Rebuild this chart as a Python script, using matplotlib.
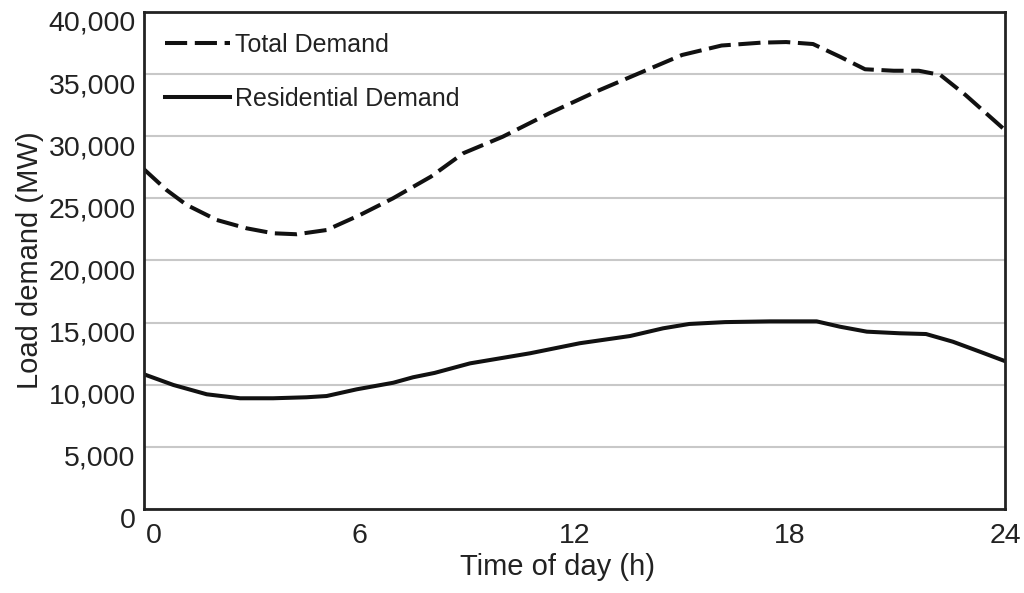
import numpy as np
import matplotlib
matplotlib.use("Agg")
import matplotlib.pyplot as plt
import matplotlib.transforms as mtransforms

# hours and load values (MW)
hours_total = [0, 0.63, 1.19, 2.03, 2.86, 3.6, 4.26, 5.09, 6.02, 6.94, 8.0, 8.9, 10.0,
               11.3, 12.6, 13.9, 15.0, 16.1, 17.2, 17.9, 18.65, 19.4, 20.1, 20.9,
               21.6, 22.2, 22.9, 24.0]
total_demand = [27340, 25670, 24470, 23260, 22590, 22190, 22110, 22450, 23660, 25000,
                26750, 28630, 29960, 31850, 33590, 35190, 36540, 37300, 37530, 37580,
                37420, 36400, 35390, 35270, 35270, 34930, 33320, 30500]

hours_res = [0, 0.82, 1.75, 2.68, 3.6, 4.53, 5.09, 5.93, 6.95, 7.5, 8.1, 9.09, 10.76,
             12.15, 13.55, 14.47, 15.2, 16.2, 17.45, 18.75, 19.4, 20.15, 21.07, 21.8,
             22.55, 23.3, 24.0]
res_demand = [10840, 9980, 9230, 8910, 8910, 8990, 9090, 9630, 10160, 10600, 10950,
              11720, 12530, 13340, 13920, 14540, 14890, 15040, 15100, 15100, 14670,
              14270, 14140, 14080, 13460, 12660, 11900]

xticks = [0, 6, 12, 18, 24]
yticks = list(range(0, 40001, 5000))

plt.rcParams['font.family'] = ['Liberation Sans', 'DejaVu Sans']

fig = plt.figure(figsize=(10.24, 5.93), dpi=100)
ax = fig.add_axes([0.1406, 0.1417, 0.8408, 0.8381])

ax.plot(hours_total, total_demand, color='#111111', lw=2.9, dashes=(5.5, 1.9),
        dash_joinstyle='round', label='Total Demand')
ax.plot(hours_res, res_demand, color='#111111', lw=2.9, solid_joinstyle='round',
        label='Residential Demand')

ax.set_xlim(0, 24)
ax.set_ylim(0, 40000)
ax.set_xticks(xticks)
ax.set_yticks(yticks)
ax.set_yticklabels(['{:,}'.format(v) for v in yticks])
ax.yaxis.grid(True, color='#c8c8c8', lw=1.5)
ax.set_axisbelow(True)
ax.tick_params(length=0, labelsize=20.5, colors='#222222')
ax.tick_params(axis='x', pad=10)
ax.tick_params(axis='y', pad=6)
for s in ax.spines.values():
    s.set_linewidth(2)
    s.set_color('#222222')

# y labels sit a little below their grid lines in the reference
off = mtransforms.ScaledTranslation(0, -0.09, fig.dpi_scale_trans)
for lab in ax.get_yticklabels():
    lab.set_transform(lab.get_transform() + off)
# the "0" on the time axis is nudged right of the spine
off0 = mtransforms.ScaledTranslation(0.1, 0, fig.dpi_scale_trans)
xl0 = ax.get_xticklabels()[0]
xl0.set_transform(xl0.get_transform() + off0)

ax.set_xlabel('Time of day (h)', fontsize=21, color='#222222')
ax.set_ylabel('Load demand (MW)', fontsize=21, color='#222222')
ax.xaxis.set_label_coords(0.48, -0.088)
ax.yaxis.set_label_coords(-0.116, 0.5)

ax.legend(loc='upper left', bbox_to_anchor=(-0.002, 1.003), frameon=False,
          fontsize=18, handlelength=2.6, handletextpad=0.22, labelspacing=1.2,
          labelcolor='#222222')

fig.savefig('out.png', dpi=100)
